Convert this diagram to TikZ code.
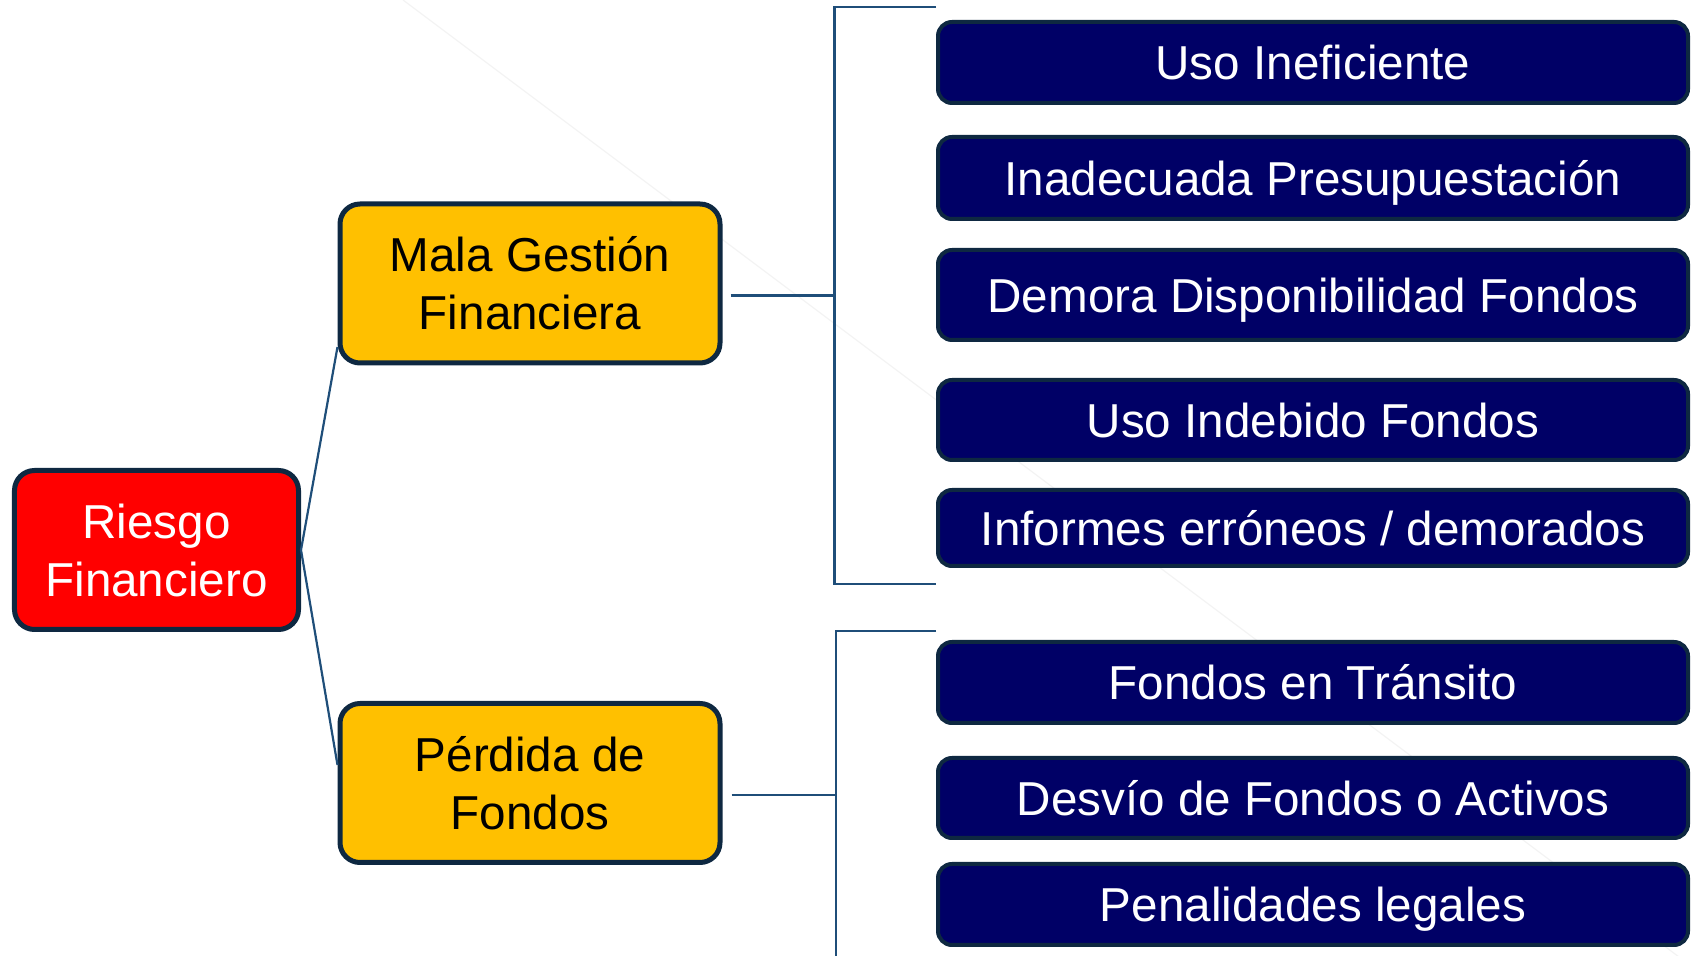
\documentclass[tikz,border=0pt]{standalone}
\usepackage{fontspec}
\setmainfont{Liberation Sans}
\usetikzlibrary{positioning}
\definecolor{rojo}{HTML}{FF0000}
\definecolor{amarillo}{HTML}{FFC000}
\definecolor{azulcaja}{HTML}{000066}
\definecolor{borde}{HTML}{0E2841}
\definecolor{lineaazul}{HTML}{1F4E79}
\definecolor{fondo}{HTML}{F3F3F3}

\begin{document}
\begin{tikzpicture}[caja/.style={rectangle,rounded corners=10pt,draw=borde,line width=2.5pt,align=center,inner sep=0pt,font=\fontsize{23.8}{29}\selectfont},
  riesgo/.style={caja,fill=rojo,text=white,minimum width=142pt,minimum height=79.5pt},
  grupo/.style={caja,fill=amarillo,text=black,minimum width=190pt,minimum height=79.5pt},
  causa/.style={rectangle,rounded corners=7pt,draw=borde,line width=2pt,fill=azulcaja,text=white,minimum width=375pt,inner sep=0pt,text height=17.4pt,text depth=0pt,font=\fontsize{23.8}{29}\selectfont},
  linea/.style={draw=lineaazul,line width=1.1pt}]

		  \useasboundingbox (-78.25pt,-203pt) rectangle (767.25pt,275pt);
		  \draw[fondo,line width=0.6pt] (123.25pt,275pt) -- (767.25pt,-208pt);

		  % Riesgo
		  \node[riesgo] (R) {Riesgo\\Financiero};

		  % Grupos
		  \node[grupo] (M) [above right=133.25pt and 186.75pt of R.center,anchor=center] {Mala Gestión\\Financiera};
		  \node[grupo] (P) [below=249.75pt of M.center,anchor=center] {Pérdida de\\Fondos};

		  % Causas
		  \node[causa,minimum height=40.5pt] (U1) [above right=110.5pt and 391.5pt of M.center,anchor=center] {Uso Ineficiente};
		  \node[causa,minimum height=41pt]   (U2) [below=57.75pt of U1.center,anchor=center] {Inadecuada Presupuestación};
		  \node[causa,minimum height=45pt]   (U3) [below=58.5pt of U2.center,anchor=center] {Demora Disponibilidad Fondos};
		  \node[causa,minimum height=40pt]   (U4) [below=62.5pt of U3.center,anchor=center] {Uso Indebido Fondos};
		  \node[causa,minimum height=38pt]   (U5) [below=54pt of U4.center,anchor=center] {Informes erróneos / demorados};
		  \node[causa,minimum height=40.5pt] (U6) [below=77.25pt of U5.center,anchor=center] {Fondos en Tránsito};
		  \node[causa,minimum height=40pt]   (U7) [below=57.75pt of U6.center,anchor=center] {Desvío de Fondos o Activos};
		  \node[causa,minimum height=40.5pt] (U8) [below=53.25pt of U7.center,anchor=center] {Penalidades legales};

		  \coordinate (b1o) at (339pt,271.65pt);
		  \coordinate (b1u) at (339pt,-17pt);
		  \coordinate (b2o) at (339.75pt,-40.5pt);
		  \coordinate (b2u) at (339.75pt,-210pt);

		  \path[linea]
			(R.east) edge ([yshift=-31.75pt]M.west)
				 edge ([yshift=9pt]P.west);

		  \draw[linea] ([xshift=4pt,yshift=-6pt]M.east) coordinate (m1) -- (m1 -| b1o);
		  \draw[linea] (b1o -| U1.west) -- (b1o) -- (b1u) -- (b1u -| U1.west);
		  \draw[linea] ([xshift=4.5pt,yshift=-6pt]P.east) coordinate (p1) -- (p1 -| b2o);
		  \draw[linea] (b2o -| U6.west) -- (b2o) -- (b2u);

		\end{tikzpicture}
\end{document}
